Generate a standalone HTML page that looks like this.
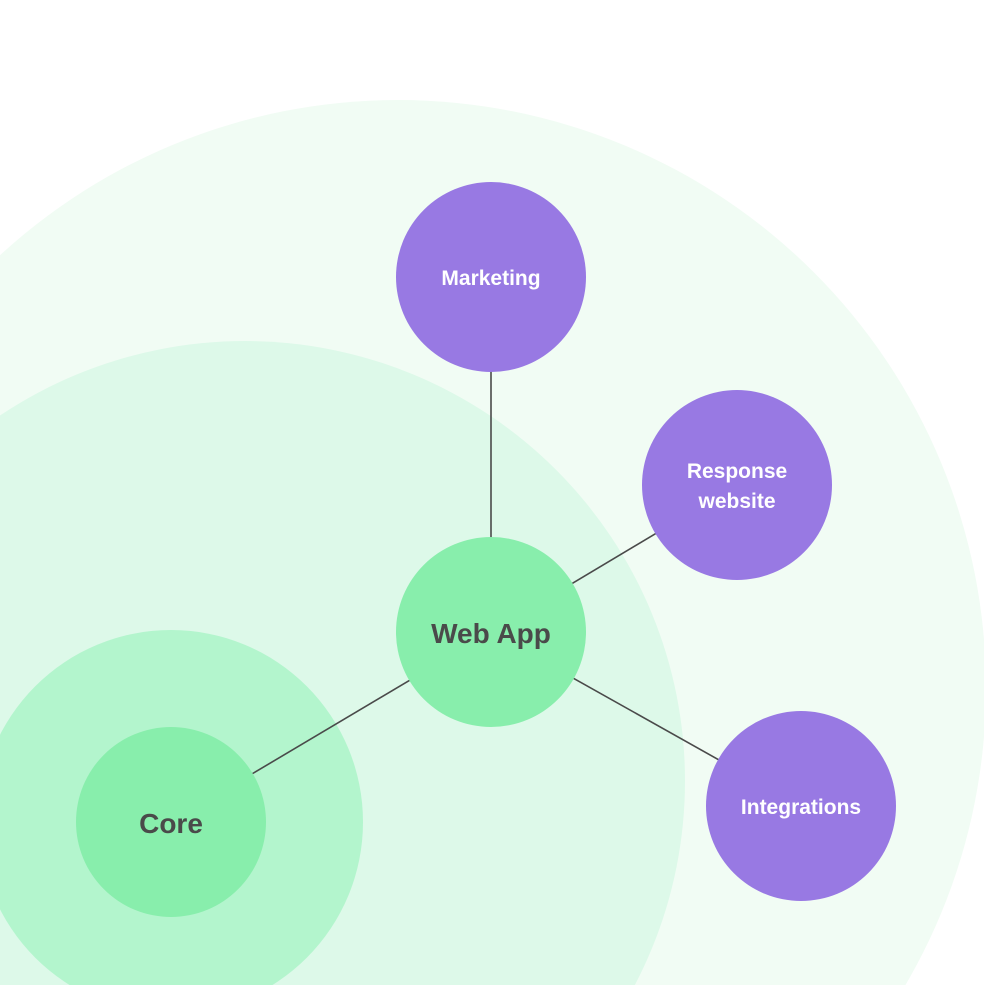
<!DOCTYPE html>
<html><head><meta charset="utf-8"><style>
html,body{margin:0;padding:0;background:#fff;width:984px;height:985px;overflow:hidden;}
svg{display:block;}
text{font-family:"Liberation Sans",sans-serif;font-weight:bold;text-anchor:middle;}
</style></head><body>
<svg width="984" height="985" viewBox="0 0 984 985" xmlns="http://www.w3.org/2000/svg">
<rect width="984" height="985" fill="#fff"/>
<circle cx="398" cy="688" r="588" fill="#f1fcf4"/>
<circle cx="245" cy="781" r="440" fill="#ddf9e9"/>
<circle cx="171" cy="822" r="192" fill="#b3f5cd"/>
<g stroke="#4a4a4a" stroke-width="1.6">
<line x1="491" y1="632" x2="171" y2="822"/>
<line x1="491" y1="632" x2="491" y2="277"/>
<line x1="491" y1="632" x2="737" y2="485"/>
<line x1="491" y1="632" x2="801" y2="806"/>
</g>
<circle cx="171" cy="822" r="95" fill="#88eeac"/>
<circle cx="491" cy="632" r="95" fill="#88eeac"/>
<circle cx="491" cy="277" r="95" fill="#9879e3"/>
<circle cx="737" cy="485" r="95" fill="#9879e3"/>
<circle cx="801" cy="806" r="95" fill="#9879e3"/>
<text x="171" y="833" font-size="28" fill="#4a4a4a">Core</text>
<text x="491" y="643" font-size="28" fill="#4a4a4a">Web App</text>
<text x="491" y="285" font-size="21" fill="#fff">Marketing</text>
<text x="737" y="478" font-size="21" fill="#fff">Response</text>
<text x="737" y="508" font-size="21" fill="#fff">website</text>
<text x="801" y="814" font-size="21" fill="#fff">Integrations</text>
</svg>
</body></html>
